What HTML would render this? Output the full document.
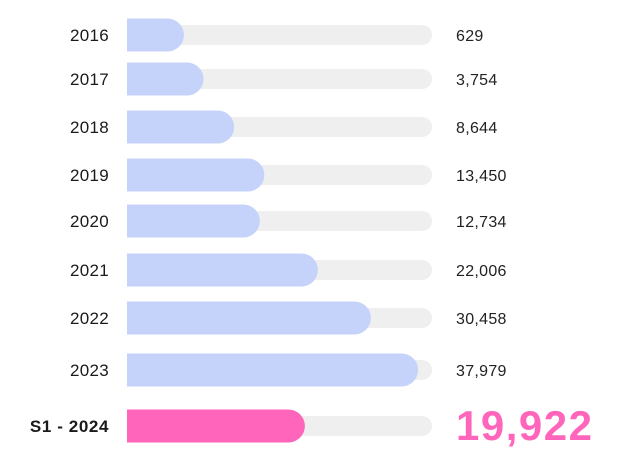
<!DOCTYPE html>
<html><head><meta charset="utf-8"><style>
html,body{margin:0;padding:0;background:#fff;width:620px;height:463px;overflow:hidden}
svg{display:block}
text{font-family:"Liberation Sans","DejaVu Sans",sans-serif}
</style></head><body>
<svg id="chart" width="620" height="463" xmlns="http://www.w3.org/2000/svg"></svg>
<script>
const categories = ["2016","2017","2018","2019","2020","2021","2022","2023","S1 - 2024"];
const values = [629,3754,8644,13450,12734,22006,30458,37979,19922];
const valueLabels = ["629","3,754","8,644","13,450","12,734","22,006","30,458","37,979","19,922"];
const rowCenters = [35,79,127,175,221,270,318,370,426];

const NS="http://www.w3.org/2000/svg";
const svg=document.getElementById('chart');
const x0=127, minW=53, trackEnd=432, domainMax=40200;
function xScale(v){return x0+minW+v*(trackEnd-x0-minW)/domainMax;}
function mk(tag,attrs){const e=document.createElementNS(NS,tag);for(const k in attrs)e.setAttribute(k,attrs[k]);svg.appendChild(e);return e;}
function barPath(x1,y,x2,h){const r=h/2;return `M${x1},${y}H${x2-r}A${r},${r} 0 0 1 ${x2-r},${y+h}H${x1}Z`;}

categories.forEach((c,i)=>{
  const cy=rowCenters[i];
  const last=i===categories.length-1;
  const tr=mk('rect',{x:x0,y:cy-10,width:trackEnd-x0,height:20,rx:10,fill:'#efefef'});
  
  
  const b=mk('path',{d:barPath(x0,cy-16.5,xScale(values[i]),33),fill:last?'#ff66bb':'#c5d3fb'});
  
  
  const l=mk('text',{x:109,y:cy+6,'text-anchor':'end','font-size':last?17:17,'font-weight':last?'bold':'normal','letter-spacing':last?'0.6':'0.3',fill:'#1a1a1a'});
  l.textContent=c;
  
  
  const v=mk('text',{x:456,y:last?cy+14:cy+6,'font-size':last?42:16,'font-weight':last?'bold':'normal','letter-spacing':last?'1.5':'0.3',fill:last?'#ff66bb':'#222'});
  v.textContent=valueLabels[i];
  
  
});
</script>
</body></html>
